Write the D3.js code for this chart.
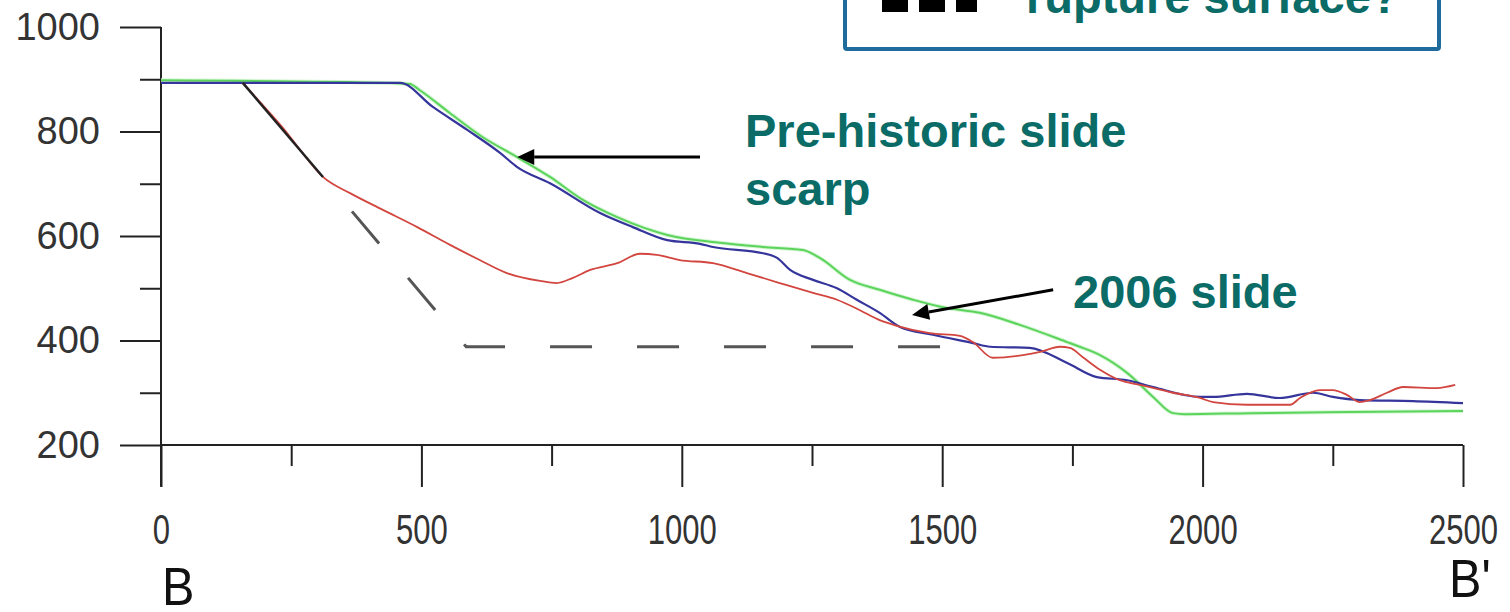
<!DOCTYPE html>
<html>
<head>
<meta charset="utf-8">
<script src="https://cdn.jsdelivr.net/npm/d3@7"></script>
<style>
  body { margin: 0; background: #fff; }
  svg { display: block; font-family: "Liberation Sans", Arial, sans-serif; }
</style>
</head>
<body>
<svg width="1510" height="612"></svg>
<script>
// profile B-B' : distance (m) vs elevation (m)
var greenProfile = [[0,898],[440,893],[478,891],[497,879],[555,835],[618,789],[684,751],[747,713],[810,669],
  [876,636],[972,602],[1073,587],[1156,579],[1233,573],[1265,558],[1323,516],[1380,497],[1444,478],[1509,462],
  [1572,453],[1649,430],[1740,397],[1764,388],[1803,372],[1855,338],[1905,292],[1943,261],[1966,259],
  [2091,261],[2283,263],[2500,265]]
var blueProfile = [[0,893],[459,893],[522,847],[588,803],[651,759],[684,732],[747,701],[843,644],[906,617],
  [972,592],[1035,585],[1060,579],[1156,567],[1183,558],[1208,535],[1252,516],[1298,500],[1336,478],[1380,453],
  [1419,426],[1482,411],[1559,395],[1592,388],[1668,386],[1740,357],[1797,330],[1855,324],[1905,311],[1995,292],
  [2020,292],[2085,298],[2148,290],[2212,300],[2250,292],[2302,286],[2404,284],[2500,280]]
var redProfile = [[157,893],[204,841],[234,807],[267,765],[311,713],[363,682],[426,650],[492,617],[555,583],
  [612,554],[664,529],[728,514],[760,510],[791,520],[824,535],[876,548],[920,566],[952,564],[996,554],[1060,548],
  [1125,529],[1188,510],[1252,491],[1298,478],[1342,458],[1380,439],[1413,428],[1476,414],[1534,409],[1559,397],
  [1597,367],[1655,372],[1688,378],[1726,388],[1745,386],[1770,368],[1803,344],[1841,324],[1880,315],[1943,300],
  [1995,290],[2020,282],[2085,277],[2168,277],[2187,290],[2225,305],[2250,305],[2277,296],[2302,282],[2321,286],
  [2354,300],[2385,311],[2450,309],[2485,315]]
var ruptureSurface = [[157,893],[311,713],[586,388],[1500,388]]

var yMajor = [200, 400, 600, 800, 1000]
var yMinor = [300, 500, 700, 900]
var xMajor = [0, 500, 1000, 1500, 2000, 2500]
var xMinor = [250, 750, 1250, 1750, 2250]

var arrows = [
  { from: [1035, 751], to: [684, 751] },
  { from: [1713, 497], to: [1442, 449] }
]

var svg = d3.select('svg')
var x = d3.scaleLinear().domain([0, 2500]).range([161, 1463])
var y = d3.scaleLinear().domain([200, 1000]).range([445, 27])

var teal = '#0a6b67'
var axisColor = '#222'
var fmt = d3.format('d')

// y axis
var yAxisMajor = svg.append('g').attr('transform', 'translate(161,0)')
  .call(d3.axisLeft(y).tickValues(yMajor).tickSize(41).tickPadding(20).tickFormat(fmt))
var yAxisMinor = svg.append('g').attr('transform', 'translate(161,0)')
  .call(d3.axisLeft(y).tickValues(yMinor).tickSize(21).tickFormat(''))
yAxisMajor.selectAll('text').attr('font-size', 38).attr('fill', '#333')
  .attr('font-family', '"Liberation Sans", Arial, sans-serif')

// x axis
var xAxisMajor = svg.append('g').attr('transform', 'translate(0,445)')
  .call(d3.axisBottom(x).tickValues(xMajor).tickSize(42).tickFormat(fmt))
var xAxisMinor = svg.append('g').attr('transform', 'translate(0,445)')
  .call(d3.axisBottom(x).tickValues(xMinor).tickSize(21).tickFormat(''))
xAxisMajor.selectAll('text')
  .attr('y', 0).attr('dy', null)
  .attr('transform', 'translate(0,99) scale(0.74,1)')
  .attr('font-size', 42).attr('fill', '#333')
  .attr('font-family', '"Liberation Sans", Arial, sans-serif')

svg.selectAll('.domain').remove()
svg.selectAll('.tick line').attr('stroke', axisColor).attr('stroke-width', 2)

svg.append('line').attr('x1', 161).attr('x2', 161).attr('y1', y(1000)).attr('y2', y(120))
  .attr('stroke', axisColor).attr('stroke-width', 2)
svg.append('line').attr('x1', 161).attr('x2', x(2500)).attr('y1', y(200)).attr('y2', y(200))
  .attr('stroke', axisColor).attr('stroke-width', 2)

// profiles
var line = d3.line().x(function(d) { return x(d[0]) }).y(function(d) { return y(d[1]) })
  .curve(d3.curveMonotoneX)

svg.append('path').datum(greenProfile).attr('d', line).attr('fill', 'none')
  .attr('stroke', '#d4f6d4').attr('stroke-width', 4).attr('stroke-linejoin', 'round')
svg.append('path').datum(greenProfile).attr('d', line).attr('fill', 'none')
  .attr('stroke', '#5cd45c').attr('stroke-width', 2).attr('stroke-linejoin', 'round')
svg.append('path').datum(blueProfile).attr('d', line).attr('fill', 'none')
  .attr('stroke', '#35359c').attr('stroke-width', 2.2).attr('stroke-linejoin', 'round')
svg.append('path').datum(redProfile).attr('d', line).attr('fill', 'none')
  .attr('stroke', '#d2463f').attr('stroke-width', 1.8).attr('stroke-linejoin', 'round')

// rupture surface: solid along the scarp, dashed below
var straight = d3.line().x(function(d) { return x(d[0]) }).y(function(d) { return y(d[1]) })
svg.append('path').datum(ruptureSurface.slice(0, 2)).attr('d', straight).attr('fill', 'none')
  .attr('stroke', '#222').attr('stroke-width', 2.5)
svg.append('path').datum(ruptureSurface.slice(1)).attr('d', straight).attr('fill', 'none')
  .attr('stroke', '#555').attr('stroke-width', 3)
  .attr('stroke-dasharray', '42,45').attr('stroke-dashoffset', 42)

// arrows
arrows.forEach(function(a) {
  var x1 = x(a.from[0]), y1 = y(a.from[1]), x2 = x(a.to[0]), y2 = y(a.to[1])
  var ang = Math.atan2(y2 - y1, x2 - x1)
  var len = 17, half = 8
  var bx = x2 - len * Math.cos(ang), by = y2 - len * Math.sin(ang)
  svg.append('line').attr('x1', x1).attr('y1', y1).attr('x2', bx).attr('y2', by)
    .attr('stroke', '#000').attr('stroke-width', 3)
  svg.append('polygon')
    .attr('points', [[x2, y2],
      [bx + half * Math.sin(ang), by - half * Math.cos(ang)],
      [bx - half * Math.sin(ang), by + half * Math.cos(ang)]].join(' '))
    .attr('fill', '#000')
})

// annotations
var bold = function(t, px, py, c) {
  return svg.append('text').attr('x', px).attr('y', py).text(t)
    .attr('font-size', 47).attr('font-weight', 'bold').attr('fill', c)
}
bold('Pre-historic slide', 745, 147, teal)
bold('scarp', 745, 205, teal)
bold('2006 slide', 1073, 308, teal)

// box at top (cut by the frame)
svg.append('rect').attr('x', 845).attr('y', -40).attr('width', 594).attr('height', 89)
  .attr('fill', '#fff').attr('stroke', '#1f6b9c').attr('stroke-width', 4).attr('rx', 2)
svg.append('line').attr('x1', 882).attr('x2', 977).attr('y1', 5).attr('y2', 5)
  .attr('stroke', '#000').attr('stroke-width', 14).attr('stroke-dasharray', '26,11')
bold('rupture surface?', 1026, 13, teal)

// section ends
svg.append('text').attr('transform', 'translate(162,605) scale(0.9,1)').text('B')
  .attr('font-size', 54).attr('fill', '#111')
svg.append('text').attr('transform', 'translate(1449,597) scale(0.9,1)').text("B'")
  .attr('font-size', 54).attr('fill', '#111')
</script>
</body>
</html>
